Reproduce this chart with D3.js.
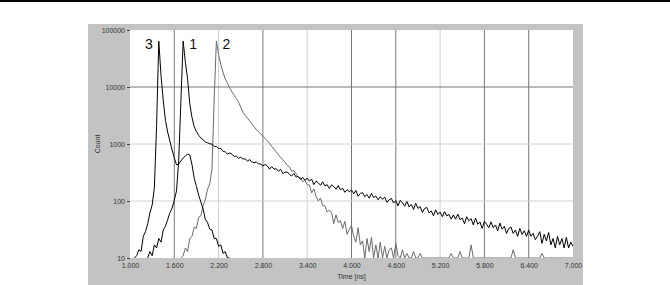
<!DOCTYPE html>
<html lang="en">
<head>
<meta charset="UTF-8">
<title>Decay curves</title>
<script src="https://cdn.jsdelivr.net/npm/d3@7/dist/d3.min.js"></script>
<style>
  body { margin: 0; background: #fff; }
  text { font-family: "Liberation Sans", Arial, sans-serif; }
</style>
</head>
<body>
<script>
// axis ticks
var xTicks = [1.0, 1.6, 2.2, 2.8, 3.4, 4.0, 4.6, 5.2, 5.8, 6.4, 7.0];
var yTicks = [10, 100, 1000, 10000, 100000];
var yLabels = ["10", "100", "1000", "10000", "100000"];

// channel width (ns) and first channel time of each curve
var channel = 0.03;
var start1 = 1.24, start2 = 1.69, start3 = 1.06;

// counts per channel
var counts1 = [10,13,11,17,15,22,19,31,36,47,62,75,104,150,520,6000,64000,27000,14000,5000,
  2900,2000,1650,1420,1280,1180,1090,1050,1010,
  998,901,913,836,836,744,727,667,695,661,608,609,559,588,544,549,504,531,491,467,487,445,445,413,
  437,414,362,401,362,369,333,360,303,320,323,292,275,305,263,268,240,259,231,252,
  224,241,194,223,209,189,217,184,194,166,192,179,161,187,157,167,142,158,145,155,
  134,153,121,136,140,119,130,112,136,115,122,105,119,107,117,95,105,
  111,92,102,82,103,93,81,98,79,87,71,91,74,80,63,74,77,62,67,55,
  70,58,64,53,65,55,58,48,57,48,59,47,50,
  40,53,45,49,38,50,39,43,33,44,39,34,43,34,38,30,41,32,36,27,
  33,35,27,31,24,33,26,30,24,31,24,27,21,24,
  29,18,26,20,28,17,22,15,24,17,22,15,23,15,19,16];

var counts2 = [0,11,15,13,22,24,35,33,52,55,84,105,160,200,360,6000,64000,
  37000,24600,18200,13800,11600,9680,8220,7190,6280,5420,
  4430,3620,3180,2840,2540,2260,2020,1800,1640,1500,
  1370,1250,1140,1020,910,813,728,650,583,529,479,
  419,397,333,340,301,260,254,219,229,195,
  191,139,163,121,100,113,83,82,64,69,
  63,40,57,42,45,33,44,26,32,
  37,24,19,34,17,20,0,22,13,23,0,17,0,19,0,16,0,14,
  15,0,18,11,0,14,0,12,0,0,13,0,0,12,
  0,0,0,0,0,0,0,0,0,0,0,0,0,
  12,0,0,0,13,0,0,0,0,17,
  0,0,0,0,0,0,0,0,0,0,0,0,0,0,0,0,0,0,
  14,0,0,0,0,0,0,0,0,0,0,0,0,
  12,0,0,0,0,0,0,0,0,0,0,0,0,0,0];

var counts3 = [0,11,14,13,24,29,40,62,85,170,2100,64000,16000,5900,2600,1620,1130,785,570,430,
  445,505,570,615,665,640,430,250,180,127,96,72,48,42,32,31,22,22,16,17,12,13,10,0];

var curveNames = ["2", "1", "3"];

var w = 670, h = 285;
var plot = {left: 130, right: 573, top: 30, bottom: 258};

var xScale = d3.scaleLinear().domain([1, 7]).range([plot.left, plot.right]);
var yScale = d3.scaleLog().domain([10, 100000]).range([plot.bottom, plot.top]);

var svg = d3.select("body").append("svg")
  .attr("width", w)
  .attr("height", h);

// rule across the top of the page
svg.append("rect")
  .attr("x", 0).attr("y", 0)
  .attr("width", w).attr("height", 2)
  .attr("fill", "#000");

// grey chart panel and white plot area
svg.append("rect")
  .attr("x", 88).attr("y", 24)
  .attr("width", 583 - 88).attr("height", h - 24)
  .attr("fill", "#c3c3c3");
svg.append("rect")
  .attr("x", plot.left).attr("y", plot.top)
  .attr("width", plot.right - plot.left).attr("height", plot.bottom - plot.top)
  .attr("fill", "#fff");

svg.append("clipPath").attr("id", "clip")
  .append("rect")
  .attr("x", plot.left).attr("y", plot.top - 2)
  .attr("width", plot.right - plot.left).attr("height", plot.bottom - plot.top + 2);

// gridlines (some print darker than others in the original)
var darkV = [1, 3, 5, 6, 8, 9];
svg.append("g").selectAll("line")
  .data(xTicks.slice(1, -1))
  .enter().append("line")
  .attr("x1", function(d) { return xScale(d); })
  .attr("x2", function(d) { return xScale(d); })
  .attr("y1", plot.top).attr("y2", plot.bottom)
  .attr("stroke", function(d, i) { return darkV.indexOf(i + 1) >= 0 ? "#777" : "#cfcfcf"; })
  .attr("stroke-width", 1);

svg.append("g").selectAll("line")
  .data(yTicks.slice(1, -1))
  .enter().append("line")
  .attr("x1", plot.left).attr("x2", plot.right)
  .attr("y1", function(d) { return yScale(d); })
  .attr("y2", function(d) { return yScale(d); })
  .attr("stroke", function(d) { return d === 10000 ? "#777" : "#d2d2d2"; })
  .attr("stroke-width", 1);

// curves
var series = [
  {name: curveNames[0], start: start2, counts: counts2, color: "#6a6a6a", side: 1},
  {name: curveNames[1], start: start1, counts: counts1, color: "#000", side: 1},
  {name: curveNames[2], start: start3, counts: counts3, color: "#000", side: -1}
];

var line = d3.line()
  .x(function(d) { return xScale(d.t); })
  .y(function(d) { return yScale(Math.max(d.c, 10)); });

var curves = svg.append("g").attr("clip-path", "url(#clip)");
series.forEach(function(s) {
  var pts = s.counts.map(function(c, i) {
    return {t: s.start + i * channel, c: c};
  });
  s.peak = pts.reduce(function(a, b) { return b.c > a.c ? b : a; });
  curves.append("path")
    .datum(pts)
    .attr("d", line)
    .attr("fill", "none")
    .attr("stroke", s.color)
    .attr("stroke-width", 1);
});

// peak labels
svg.append("g").selectAll("text")
  .data(series)
  .enter().append("text")
  .attr("x", function(d) { return xScale(d.peak.t) + d.side * 10; })
  .attr("y", function(d) { return yScale(d.peak.c) + 8; })
  .attr("text-anchor", "middle")
  .attr("font-size", 14)
  .attr("fill", "#111")
  .text(function(d) { return d.name; });

// axes
var xAxis = d3.axisBottom(xScale)
  .tickValues(xTicks)
  .tickFormat(d3.format(".3f"))
  .tickSizeInner(0).tickSizeOuter(0)
  .tickPadding(5);
var gx = svg.append("g")
  .attr("transform", "translate(0," + plot.bottom + ")")
  .call(xAxis);

var yAxis = d3.axisLeft(yScale)
  .tickValues(yTicks)
  .tickFormat(function(d, i) { return yLabels[i]; })
  .tickSizeInner(3).tickSizeOuter(0)
  .tickPadding(2);
var gy = svg.append("g")
  .attr("transform", "translate(" + plot.left + ",0)")
  .call(yAxis);

[gx, gy].forEach(function(g) {
  g.select(".domain").remove();
  g.selectAll("text")
    .attr("font-family", "'Liberation Sans', Arial, sans-serif")
    .attr("font-size", 7)
    .attr("fill", "#333");
  g.selectAll("line").attr("stroke", "#444");
});

// axis titles
svg.append("text")
  .attr("x", (plot.left + plot.right) / 2)
  .attr("y", 279)
  .attr("text-anchor", "middle")
  .attr("font-size", 7)
  .attr("fill", "#333")
  .text("Time [ns]");

svg.append("text")
  .attr("transform", "translate(100," + (plot.top + plot.bottom) / 2 + ") rotate(-90)")
  .attr("text-anchor", "middle")
  .attr("font-size", 7)
  .attr("fill", "#333")
  .text("Count");
</script>
</body>
</html>
